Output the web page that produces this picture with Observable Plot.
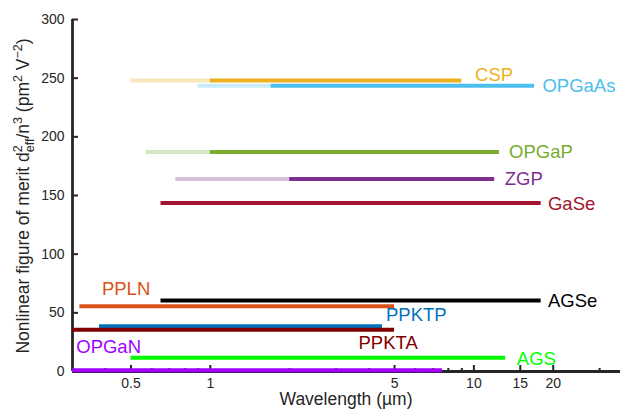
<!DOCTYPE html>
<html><head><meta charset="utf-8">
<script src="https://cdn.jsdelivr.net/npm/d3@7"></script>
<script src="https://cdn.jsdelivr.net/npm/@observablehq/plot@0.6"></script>
<style>body{margin:0;background:#fff;} svg{display:block;}</style>
</head><body><div id="chart"></div>
<script>
// ---- data ----
const crystals = ["CSP","OPGaAs","OPGaP","ZGP","GaSe","AGSe","PPLN","PPKTP","PPKTA","AGS","OPGaN"];
const fom      = [248, 243.5, 187, 164, 143.6, 60.6, 55.7, 38.6, 35.5, 11.7, 1];
const lamLo    = [1, 1.7, 1, 2, 0.65, 0.65, 0.32, 0.38, 0.3, 0.5, 0.3];
const lamHi    = [9, 17, 12.5, 12, 18, 18, 5, 4.5, 5, 13.2, 7.6];
const lamPale  = [0.5, 0.9, 0.572, 0.74, null, null, null, null, null, null, null];
const colors   = ["#EDB120","#4DBEEE","#77AC30","#7E2F8E","#A2142F","#000000","#D95319","#0072BD","#800000","#00FF00","#A000FF"];
// label anchor (µm, FOM)
const labelX   = [10.1, 18.2, 13.6, 13.1, 19.1, 19.1, 0.388, 4.64, 3.65, 14.55, 0.31];
const labelY   = [252.9, 242.9, 187.1, 163.6, 142.8, 59.7, 69.9, 47.7, 24.3, 10.5, 20.9];
const yTicks   = [0, 50, 100, 150, 200, 250, 300];
const xTicks   = [0.5, 1, 5, 10, 15, 20];
const xTickLabels = ["0.5", "1", "5", "10", "15", "20"];
const xMinor   = [0.4, 0.6, 0.7, 0.8, 0.9, 2, 3, 4, 6, 7, 8, 9, 30];

const rows = crystals.map((name, i) => ({
  name, fom: fom[i], lo: lamLo[i], hi: lamHi[i], pale: lamPale[i],
  color: colors[i], lx: labelX[i], ly: labelY[i]
}));

const W = 625, H = 416, mL = 72, mR = 5, mT = 19, mB = 45;
const plotW = W - mL - mR, plotH = H - mT - mB;
const font = "'Liberation Sans', Arial, Helvetica, sans-serif";
const ink = "#262626";

const chart = Plot.plot({
  width: W, height: H,
  marginLeft: mL, marginRight: mR, marginTop: mT, marginBottom: mB,
  style: {fontFamily: font, background: "#fff", overflow: "visible"},
  x: {type: "log", domain: [0.3, 36]},
  y: {domain: [0, 300]},
  color: {type: "identity"},
  marks: [
    // ticks (inward)
    Plot.tickY(yTicks, {y: d => d, stroke: ink, strokeWidth: 2, insetRight: plotW - 6}),
    Plot.tickX(xTicks, {x: d => d, stroke: ink, strokeWidth: 2, insetTop: plotH - 6}),
    Plot.tickX(xMinor, {x: d => d, stroke: ink, strokeWidth: 2, insetTop: plotH - 3}),
    Plot.axisY({ticks: yTicks, tickSize: 0, tickPadding: 8, fontSize: 14, color: ink, label: null}),
    Plot.axisX({ticks: xTicks, tickSize: 0, tickPadding: 7, fontSize: 14, color: ink, label: null,
      tickFormat: d => xTickLabels[xTicks.indexOf(d)]}),
    // axis lines
    Plot.ruleX([0.3], {stroke: ink, strokeWidth: 2.8}),
    Plot.ruleY([0], {stroke: ink, strokeWidth: 2.8}),
    // pale (partial transparency) segments
    Plot.ruleY(rows.filter(d => d.pale != null), {y: "fom", x1: "pale", x2: "lo", stroke: "color", strokeOpacity: 0.3, strokeWidth: 4}),
    // main bars
    Plot.ruleY(rows, {y: "fom", x1: "lo", x2: "hi", stroke: "color", strokeWidth: 4}),
    // labels
    Plot.text(rows, {x: "lx", y: "ly", text: "name", fill: "color", textAnchor: "start", lineAnchor: "middle", fontSize: 18.5})
  ]
});
document.getElementById("chart").appendChild(chart);

const svg = d3.select(chart);
// x-axis title
svg.append("text")
  .attr("x", mL + plotW / 2).attr("y", 405)
  .attr("text-anchor", "middle")
  .attr("font-family", font).attr("font-size", 17.5).attr("fill", ink)
  .text("Wavelength (µm)");
// y-axis title with super/subscripts
const yt = svg.append("text")
  .attr("transform", "rotate(-90)")
  .attr("x", -196).attr("y", 29)
  .attr("text-anchor", "middle")
  .attr("font-family", font).attr("font-size", 17.5).attr("fill", ink);
const small = 12.5;
yt.append("tspan").text("Nonlinear figure of merit d");
yt.append("tspan").attr("font-size", small).attr("dy", -7).text("2");
yt.append("tspan").attr("font-size", small).attr("dx", -7).attr("dy", 11.5).text("eff");
yt.append("tspan").attr("dy", -4.5).text("/n");
yt.append("tspan").attr("font-size", small).attr("dy", -7).text("3");
yt.append("tspan").attr("dy", 7).text(" (pm");
yt.append("tspan").attr("font-size", small).attr("dy", -7).text("2");
yt.append("tspan").attr("dy", 7).text(" V");
yt.append("tspan").attr("font-size", small).attr("dy", -7).text("\u22122");
yt.append("tspan").attr("dy", 7).text(")");
</script>
</body></html>
